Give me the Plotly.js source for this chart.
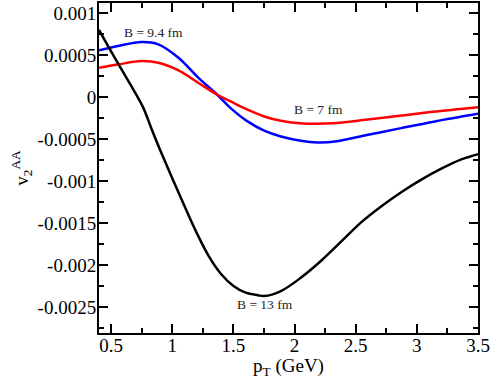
<!DOCTYPE html>
<html>
<head>
<meta charset="utf-8">
<script src="https://cdn.plot.ly/plotly-3.0.1.min.js"></script>
<style>
  html, body { margin: 0; padding: 0; background: #fff; }
  #myPlot { width: 491px; height: 379px; }
</style>
</head>
<body>
<div id="myPlot"></div>
<script>
// ======================== v2 AA vs pT =========================
// B = 13 fm (black)
const xB13 = [0.4, 0.5, 0.6, 0.7, 0.76, 0.83, 0.9, 1.0, 1.1, 1.2, 1.3, 1.4, 1.5, 1.6, 1.7, 1.75, 1.888, 2.053, 2.217, 2.382, 2.546, 2.71, 2.875, 3.04, 3.204, 3.369, 3.5];
const yB13 = [0.0008, 0.00054, 0.00029, 0.00004, -0.00012, -0.00038, -0.00063, -0.00097, -0.0013, -0.00162, -0.0019, -0.00211, -0.00225, -0.00233, -0.00236, -0.00237, -0.00231, -0.00215, -0.00195, -0.00172, -0.00149, -0.0013, -0.00113, -0.00098, -0.00085, -0.00074, -0.00068];

// B = 9.4 fm (blue)
const xB94 = [0.4, 0.556, 0.748, 0.885, 1.05, 1.214, 1.365, 1.477, 1.615, 1.751, 1.888, 2.05, 2.19, 2.33, 2.6, 2.87, 3.15, 3.5];
const yB94 = [0.000556, 0.000608, 0.000656, 0.000628, 0.000468, 0.000228, 0.00003, -0.000132, -0.00029, -0.0004, -0.00047, -0.00052, -0.00054, -0.00053, -0.00045, -0.00037, -0.00029, -0.0002];

// B = 7 fm (red)
const xB7 = [0.4, 0.556, 0.748, 0.885, 1.05, 1.214, 1.365, 1.477, 1.615, 1.751, 1.888, 2.04, 2.19, 2.31, 2.58, 2.86, 3.13, 3.5];
const yB7 = [0.000348, 0.000388, 0.000428, 0.000408, 0.000317, 0.000168, 0.00003, -0.000052, -0.000151, -0.000231, -0.000283, -0.000312, -0.000318, -0.000312, -0.000271, -0.000223, -0.000175, -0.00012];

// curve labels
const labelText = ["B = 9.4 fm", "B = 7 fm", "B = 13 fm"];
const labelX = [0.845, 2.197, 1.757];
const labelY = [0.000767, -0.000151, -0.00247];

const serif = "Liberation Serif";

const axisCommon = {
    showgrid: false,
    zeroline: false,
    showline: true,
    linecolor: "#000",
    linewidth: 2,
    mirror: "allticks",
    ticks: "inside",
    ticklen: 9,
    tickwidth: 2,
    tickcolor: "#000",
    tickfont: {family: serif, size: 19, color: "#000"},
};

const layout = {
    width: 491, height: 379,
    margin: {l: 99, r: 13, t: 3, b: 46, pad: 0},
    paper_bgcolor: "#fff",
    plot_bgcolor: "#fff",
    showlegend: false,
    xaxis: Object.assign({}, axisCommon, {
        range: [0.4, 3.5],
        ticklabelstandoff: -6,
        tickvals: [0.5, 1, 1.5, 2, 2.5, 3, 3.5],
        ticktext: ["0.5", "1", "1.5", "2", "2.5", "3", "3.5"],
        minor: {dtick: 0.25, tick0: 0, ticks: "inside", ticklen: 5, tickwidth: 2, tickcolor: "#000"},
        title: {text: "p<sub>T</sub> (GeV)", font: {family: serif, size: 19, color: "#000"}, standoff: 0},
    }),
    yaxis: Object.assign({}, axisCommon, {
        range: [-0.00281, 0.00112],
        ticklabelstandoff: -3,
        tickvals: [0.001, 0.0005, 0, -0.0005, -0.001, -0.0015, -0.002, -0.0025],
        ticktext: ["0.001", "0.0005", "0", "-0.0005", "-0.001", "-0.0015", "-0.002", "-0.0025"],
        minor: {dtick: 0.00025, tick0: 0, ticks: "inside", ticklen: 5, tickwidth: 2, tickcolor: "#000"},
        title: {text: "v<sub>2</sub><sup>AA</sup>", font: {family: serif, size: 19, color: "#000"}, standoff: 4},
    }),
    annotations: labelText.map((t, i) => ({
        x: labelX[i], y: labelY[i], text: t, showarrow: false,
        font: {family: serif, size: 13.5, color: "#222"},
    })),
};

const data = [
    {x: xB94, y: yB94, type: "scatter", mode: "lines", line: {color: "#0000ff", width: 2.5, shape: "spline", smoothing: 1}},
    {x: xB7, y: yB7, type: "scatter", mode: "lines", line: {color: "#ff0000", width: 2.5, shape: "spline", smoothing: 1}},
    {x: xB13, y: yB13, type: "scatter", mode: "lines", line: {color: "#000000", width: 2.5, shape: "spline", smoothing: 1}},
];

Plotly.newPlot("myPlot", data, layout, {staticPlot: true});
</script>
</body>
</html>
